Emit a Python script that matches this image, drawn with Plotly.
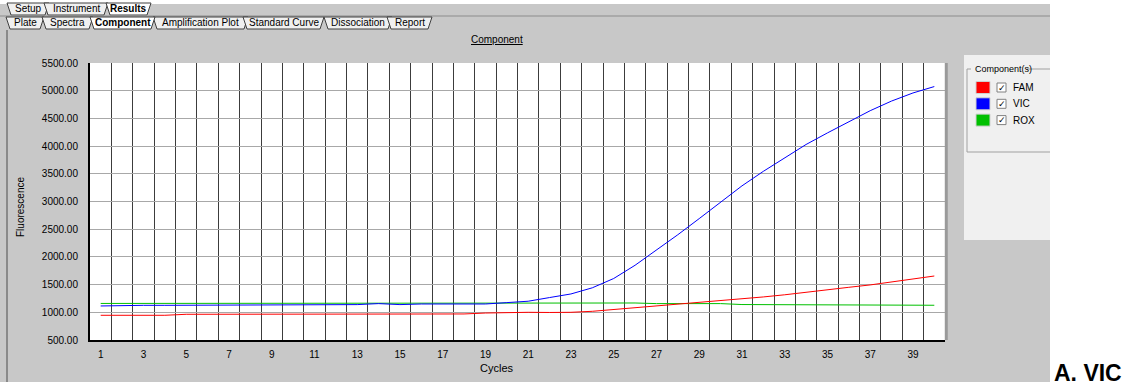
import plotly.graph_objects as go

# ---- data -------------------------------------------------------------
cycles = list(range(1, 41))

fam = [946, 946, 946, 946, 964, 964, 964, 964, 964, 964, 964, 964,
       970, 970, 970, 970, 970, 970, 987, 1000, 1000, 997, 1000, 1018,
       1050, 1082, 1108, 1140, 1172, 1200, 1235, 1277, 1316, 1357, 1408,
       1451, 1494, 1548, 1600, 1655]

vic = [1114, 1126, 1126, 1126, 1126, 1126, 1139, 1139, 1139, 1139, 1139,
       1139, 1139, 1157, 1139, 1150, 1150, 1150, 1150, 1175, 1200, 1266,
       1331, 1442, 1610, 1849, 2121, 2400, 2691, 2992, 3282, 3544, 3791,
       4029, 4238, 4442, 4639, 4813, 4959, 5075]

rox = [1160, 1160, 1160, 1160, 1160, 1160, 1160, 1172, 1165, 1172, 1172,
       1172, 1165, 1172, 1172, 1172, 1172, 1172, 1172, 1168, 1168, 1168,
       1168, 1168, 1168, 1168, 1157, 1157, 1157, 1157, 1140, 1140, 1140,
       1140, 1140, 1140, 1140, 1127, 1127, 1127]

series_names = ["FAM", "VIC", "ROX"]
series_colors = ["#ff0000", "#0000ff", "#00c000"]

y_ticks = [500, 1000, 1500, 2000, 2500, 3000, 3500, 4000, 4500, 5000, 5500]
x_ticks = list(range(1, 40, 2))
x_grid = [c + 0.5 for c in range(1, 40)]

row1_tabs = ["Setup", "Instrument", "Results"]
row2_tabs = ["Plate", "Spectra", "Component", "Amplification Plot",
             "Standard Curve", "Dissociation", "Report"]

# ---- page geometry (pixels) ------------------------------------------
W, H = 1128, 386
L, R, T, B = 90, 945, 63, 340

FONT = "Liberation Sans, Arial, sans-serif"
PANEL = "#c8c8c8"


def px(x):
    return (x - L) / (R - L)


def py(y):
    return (B - y) / (B - T)


fig = go.Figure()

for name, vals, col in [("ROX", rox, "#00c000"),
                        ("VIC", vic, "#0000ff"),
                        ("FAM", fam, "#ff0000")]:
    fig.add_trace(go.Scatter(x=cycles, y=vals, mode="lines", name=name,
                             line=dict(color=col, width=1),
                             showlegend=False, hoverinfo="x+y+name"))

shapes = []
annotations = []

# window background
shapes.append(dict(type="rect", xref="paper", yref="paper", layer="below",
                   x0=px(0), x1=px(1050), y0=py(382), y1=py(4),
                   fillcolor=PANEL, line=dict(width=0)))
# left window edge
shapes.append(dict(type="line", xref="paper", yref="paper", layer="below",
                   x0=px(7), x1=px(7), y0=py(382), y1=py(30),
                   line=dict(color="#8a8a8a", width=2)))
# plot area
shapes.append(dict(type="rect", xref="paper", yref="paper", layer="below",
                   x0=0, x1=1, y0=0, y1=1,
                   fillcolor="white", line=dict(width=0)))
# right frame of plot
shapes.append(dict(type="line", xref="paper", yref="paper", layer="above",
                   x0=1.0015, x1=1.0015, y0=0, y1=1,
                   line=dict(color="#9a9a9a", width=3)))

# ---- tab strips --------------------------------------------------------
def add_tabs(labels, lefts, rights, y_top, y_bot, active):
    slant = 4
    order = [i for i in range(len(labels)) if labels[i] != active] + \
            [i for i in range(len(labels)) if labels[i] == active]
    for i in order:
        lab = labels[i]
        x0, x1 = lefts[i], rights[i]
        path = "M {a},{b} L {c},{d} L {e},{d} L {f},{b}".format(
            a=px(x0 - slant), b=py(y_top), c=px(x0), d=py(y_bot),
            e=px(x1), f=px(x1 + slant))
        shapes.append(dict(type="path", xref="paper", yref="paper",
                           path=path + " Z",
                           fillcolor="#ffffff" if lab == active else "#f0f0f0",
                           line=dict(color="#404040", width=1)))
        annotations.append(dict(xref="paper", yref="paper",
                                x=px((x0 + x1) / 2), y=py((y_top + y_bot) / 2),
                                text=("<b>%s</b>" % lab) if lab == active else lab,
                                showarrow=False, xanchor="center",
                                yanchor="middle",
                                font=dict(family=FONT, size=10, color="#000")))


add_tabs(row1_tabs, [11, 48, 110], [45, 104, 147], 3, 15, "Results")
shapes.append(dict(type="line", xref="paper", yref="paper",
                   x0=px(0), x1=px(1050), y0=py(16), y1=py(16),
                   line=dict(color="#8c8c8c", width=1)))
add_tabs(row2_tabs, [10, 46, 94, 157, 247, 328, 391],
         [40, 89, 151, 244, 320, 388, 428], 17, 29, "Component")

# chart title
annotations.append(dict(xref="paper", yref="paper", x=px(497), y=py(39),
                        text="<u>Component</u>", showarrow=False,
                        xanchor="center", yanchor="middle",
                        font=dict(family=FONT, size=10, color="#000")))
# axis titles
annotations.append(dict(xref="paper", yref="paper", x=px(20), y=py(207),
                        text="Fluorescence", textangle=-90, showarrow=False,
                        xanchor="center", yanchor="middle",
                        font=dict(family=FONT, size=10, color="#000")))
annotations.append(dict(xref="paper", yref="paper", x=px(497), y=py(368),
                        text="Cycles", showarrow=False,
                        xanchor="center", yanchor="middle",
                        font=dict(family=FONT, size=11, color="#000")))

# ---- component selector panel ---------------------------------------
shapes.append(dict(type="rect", xref="paper", yref="paper",
                   x0=px(964), x1=px(1050), y0=py(240), y1=py(55),
                   fillcolor="#f0f0f0", line=dict(width=0)))
box_col = "#a0a0a0"
for seg in [(967, 69, 967, 152), (967, 152, 1050, 152),
            (967, 69, 971, 69), (1027, 69, 1050, 69)]:
    shapes.append(dict(type="line", xref="paper", yref="paper",
                       x0=px(seg[0]), y0=py(seg[1]),
                       x1=px(seg[2]), y1=py(seg[3]),
                       line=dict(color=box_col, width=1)))
annotations.append(dict(xref="paper", yref="paper", x=px(973), y=py(69),
                        text="Component(s)", showarrow=False,
                        xanchor="left", yanchor="middle",
                        font=dict(family=FONT, size=9, color="#000")))
for k, (name, col) in enumerate(zip(series_names, series_colors)):
    yc = 87.5 + 16.3 * k
    shapes.append(dict(type="rect", xref="paper", yref="paper",
                       x0=px(976), x1=px(990), y0=py(yc + 6), y1=py(yc - 6),
                       fillcolor=col, line=dict(color="#d0d0d0", width=1)))
    shapes.append(dict(type="rect", xref="paper", yref="paper",
                       x0=px(997), x1=px(1006), y0=py(yc + 4.5),
                       y1=py(yc - 4.5),
                       fillcolor="#ffffff", line=dict(color="#808080", width=1)))
    annotations.append(dict(xref="paper", yref="paper", x=px(1001.5),
                            y=py(yc), text="✓", showarrow=False,
                            xanchor="center", yanchor="middle",
                            font=dict(family="DejaVu Sans", size=9,
                                      color="#000")))
    annotations.append(dict(xref="paper", yref="paper", x=px(1011),
                            y=py(yc), text=name, showarrow=False,
                            xanchor="left", yanchor="middle",
                            font=dict(family=FONT, size=10, color="#000")))

# panel caption
annotations.append(dict(xref="paper", yref="paper", x=px(1052), y=py(373),
                        text="<b>A. VIC</b>", showarrow=False,
                        xanchor="left", yanchor="middle",
                        font=dict(family=FONT, size=23, color="#000")))

fig.update_layout(
    width=W, height=H,
    margin=dict(l=L, r=W - R, t=T, b=H - B, pad=0),
    paper_bgcolor="white",
    plot_bgcolor="rgba(0,0,0,0)",
    showlegend=False,
    shapes=shapes,
    annotations=annotations,
    xaxis=dict(range=[0.5, 40.5], tickvals=x_ticks,
               ticktext=[str(v) for v in x_ticks],
               showgrid=False, zeroline=False,
               showline=True, linecolor="#000", linewidth=2,
               ticks="", ticklabelstandoff=4,
               tickfont=dict(family=FONT, size=10, color="#000"),
               minor=dict(tickvals=x_grid, showgrid=True,
                          gridcolor="#3c3c3c", gridwidth=1, ticks="")),
    yaxis=dict(range=[500, 5500], tickvals=y_ticks,
               ticktext=["%.2f" % v for v in y_ticks],
               showgrid=True, gridcolor="#a8a8a8", gridwidth=1,
               zeroline=False, showline=True, linecolor="#000",
               linewidth=2, ticks="", ticklabelstandoff=8,
               tickfont=dict(family=FONT, size=10, color="#000")),
)

fig.write_html("out.html")
